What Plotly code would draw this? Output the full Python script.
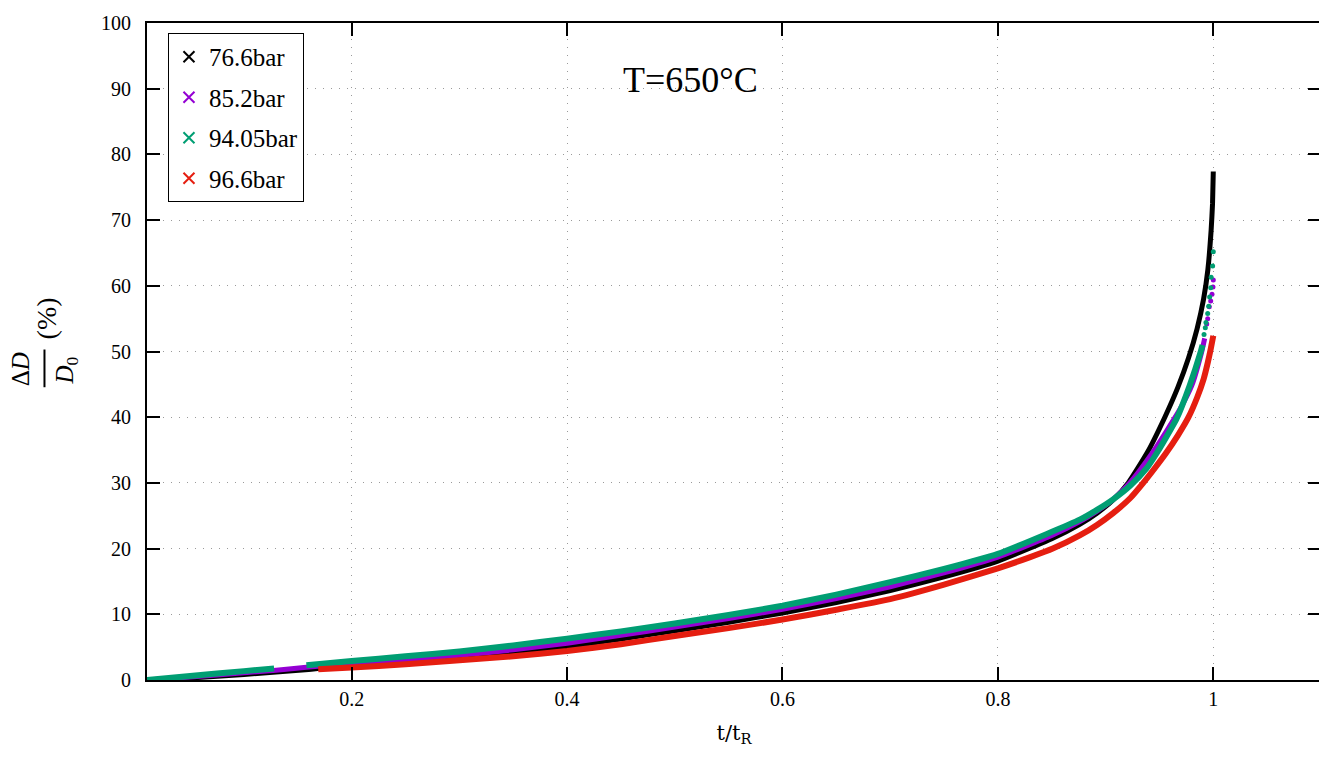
import plotly.graph_objects as go

# ---------------- data ----------------
series_names = ["76.6bar", "85.2bar", "94.05bar", "96.6bar"]
series_colors = ["#000000", "#9400d3", "#009e73", "#e51e10"]

black_x = [0.01, 0.05, 0.10, 0.16, 0.20, 0.25, 0.30, 0.35, 0.40, 0.45, 0.50, 0.55, 0.60, 0.65,
           0.70, 0.75, 0.80, 0.85, 0.876, 0.892, 0.907, 0.921, 0.939, 0.955, 0.967, 0.977,
           0.985, 0.991, 0.995, 0.998, 0.9993, 1.0]
black_y = [0.0, 0.3, 0.85, 1.6, 2.3, 2.85, 3.4, 4.2, 5.1, 6.25, 7.5, 8.8, 10.2, 11.8,
           13.6, 15.7, 18.1, 21.5, 23.7, 25.4, 27.4, 30.0, 34.7, 40.0, 44.5, 49.0,
           53.5, 58.0, 62.5, 68.5, 72.5, 77.4]

purple_x = [0.01, 0.05, 0.10, 0.13, 0.158, 0.20, 0.25, 0.30, 0.35, 0.40, 0.45, 0.50, 0.55,
            0.60, 0.65, 0.70, 0.75, 0.80, 0.85, 0.876, 0.892, 0.907, 0.923, 0.944, 0.957,
            0.969, 0.980, 0.989, 0.992]
purple_y = [0.0, 0.45, 1.1, 1.5, 1.95, 2.55, 3.1, 3.75, 4.6, 5.6, 6.8, 8.05, 9.35,
            10.75, 12.4, 14.2, 16.3, 18.7, 22.0, 24.1, 25.7, 27.5, 30.1, 34.7, 38.0,
            41.2, 44.8, 49.8, 52.0]
purple_tail_x = [0.9939, 0.9948, 0.9963, 0.9976, 0.9988, 0.9997, 1.0]
purple_tail_y = [54.2, 55.0, 56.8, 57.7, 58.7, 59.8, 60.9]

green_x = [0.01, 0.05, 0.10, 0.128, 0.143, 0.158, 0.20, 0.25, 0.30, 0.35, 0.40, 0.45, 0.50,
           0.55, 0.60, 0.65, 0.70, 0.75, 0.80, 0.845, 0.876, 0.892, 0.907, 0.923, 0.938,
           0.947, 0.954, 0.966, 0.978, 0.988, 0.990]
green_y = [0.0, 0.6, 1.35, 1.75, None, 2.25, 2.9, 3.6, 4.35, 5.25, 6.3, 7.4, 8.6,
           9.9, 11.3, 13.0, 14.9, 16.9, 19.2, 22.2, 24.4, 25.9, 27.5, 29.6, 32.2,
           34.4, 36.3, 39.8, 44.8, 49.8, 51.0]
green_tail_x = [0.9914, 0.9926, 0.9932, 0.9948, 0.9957, 0.9966, 0.9976, 0.998, 0.9994, 1.0]
green_tail_y = [52.6, 53.6, 54.4, 55.8, 56.9, 58.3, 59.7, 61.3, 63.0, 65.2]

red_x = [0.169, 0.20, 0.25, 0.30, 0.35, 0.40, 0.45, 0.50, 0.55, 0.60, 0.65, 0.70, 0.75,
         0.80, 0.83, 0.851, 0.876, 0.892, 0.907, 0.923, 0.935, 0.946, 0.956, 0.967, 0.977,
         0.985, 0.991, 0.995, 0.9975, 1.0]
red_y = [1.65, 1.9, 2.4, 3.0, 3.6, 4.4, 5.45, 6.7, 7.9, 9.2, 10.7, 12.3, 14.5,
         17.0, 18.7, 20.0, 22.0, 23.6, 25.4, 27.7, 30.0, 32.3, 34.5, 37.2, 40.0,
         43.0, 45.8, 48.4, 50.3, 52.4]

x_tickvals = [0.2, 0.4, 0.6, 0.8, 1.0]
x_ticktext = ["0.2", "0.4", "0.6", "0.8", "1"]
y_tickvals = list(range(0, 101, 10))

# ---------------- figure ----------------
SERIF = "Liberation Serif, Times New Roman, serif"
fig = go.Figure()

bodies = [(black_x, black_y), (purple_x, purple_y), (green_x, green_y), (red_x, red_y)]
tails = [None, (purple_tail_x, purple_tail_y), (green_tail_x, green_tail_y), None]
widths = [5, 5, 6, 6]

for i, name in enumerate(series_names):
    col = series_colors[i]
    # legend entry (x marker)
    fig.add_trace(go.Scatter(x=[None], y=[None], mode="markers", name=name,
                             legendgroup=name,
                             marker=dict(symbol="x-thin", size=11, color=col,
                                         line=dict(width=2, color=col))))
    bx, by = bodies[i]
    fig.add_trace(go.Scatter(x=bx, y=by, mode="lines", showlegend=False,
                             legendgroup=name, connectgaps=False,
                             line=dict(color=col, width=widths[i], shape="spline",
                                       smoothing=0.5)))
    if tails[i] is not None:
        tx, ty = tails[i]
        fig.add_trace(go.Scatter(x=tx, y=ty, mode="markers", showlegend=False,
                                 legendgroup=name,
                                 marker=dict(size=5, color=col)))

# page body has an 8px margin; target plot-area pixel geometry in the window
OFF = 8
L, R, T, B = 147, 1323, 18, 680
W, H = 1327 - OFF, 758 - OFF

def xp(px):
    return (px - L) / (R - L)

def yp(py):
    return (B - py) / (B - T)

fig.update_layout(
    width=W, height=H,
    margin=dict(l=L - OFF, r=W - (R - OFF), t=T - OFF, b=H - (B - OFF)),
    paper_bgcolor="white", plot_bgcolor="white",
    font=dict(family=SERIF, size=20, color="black"),
    showlegend=True,
    legend=dict(x=xp(168), y=yp(28), xanchor="left", yanchor="top",
                bgcolor="white", bordercolor="black", borderwidth=1,
                font=dict(family=SERIF, size=25, color="black"),
                traceorder="grouped", tracegroupgap=5),
    xaxis=dict(range=[0.01, 1.1], tickvals=x_tickvals, ticktext=x_ticktext,
               ticks="inside", ticklen=13, tickwidth=2, tickcolor="black",
               showline=True, linewidth=2, linecolor="black", mirror="allticks",
               showgrid=True, gridcolor="#9a9a9a", gridwidth=1, griddash="1px,7px",
               zeroline=False,
               tickfont=dict(family=SERIF, size=20),
               title=dict(text="t/t<sub>R</sub>", standoff=16,
                          font=dict(family="DejaVu Serif, serif", size=21))),
    yaxis=dict(range=[0, 100], tickvals=y_tickvals,
               ticks="inside", ticklen=13, tickwidth=2, tickcolor="black",
               showline=True, linewidth=2, linecolor="black", mirror="allticks",
               showgrid=True, gridcolor="#9a9a9a", gridwidth=1, griddash="1px,7px",
               zeroline=False, ticklabelstandoff=10, ticklabeloverflow="allow",
               tickfont=dict(family=SERIF, size=20)),
)

# chart annotation
fig.add_annotation(x=0.515, y=91.4, xref="x", yref="y", text="T=650°C",
                   showarrow=False, font=dict(family=SERIF, size=36, color="black"))

# y-axis label: ΔD / D0 (%), rotated
fig.add_annotation(x=xp(20), y=yp(366.7), xref="paper", yref="paper",
                   text="Δ<i>D</i>", textangle=-90, showarrow=False,
                   xanchor="center", yanchor="middle",
                   font=dict(family=SERIF, size=25, color="black"))
fig.add_annotation(x=xp(66), y=yp(368), xref="paper", yref="paper",
                   text="<i>D</i><sub>0</sub>", textangle=-90, showarrow=False,
                   xanchor="center", yanchor="middle",
                   font=dict(family=SERIF, size=25, color="black"))
fig.add_annotation(x=xp(46.7), y=yp(315.8), xref="paper", yref="paper",
                   text="(%)", textangle=-90, showarrow=False,
                   xanchor="center", yanchor="middle",
                   font=dict(family=SERIF, size=28, color="black"))
fig.add_shape(type="line", xref="paper", yref="paper",
              x0=xp(44.3), x1=xp(44.3), y0=yp(347), y1=yp(385),
              line=dict(color="black", width=2))

fig.write_html("out.html")
